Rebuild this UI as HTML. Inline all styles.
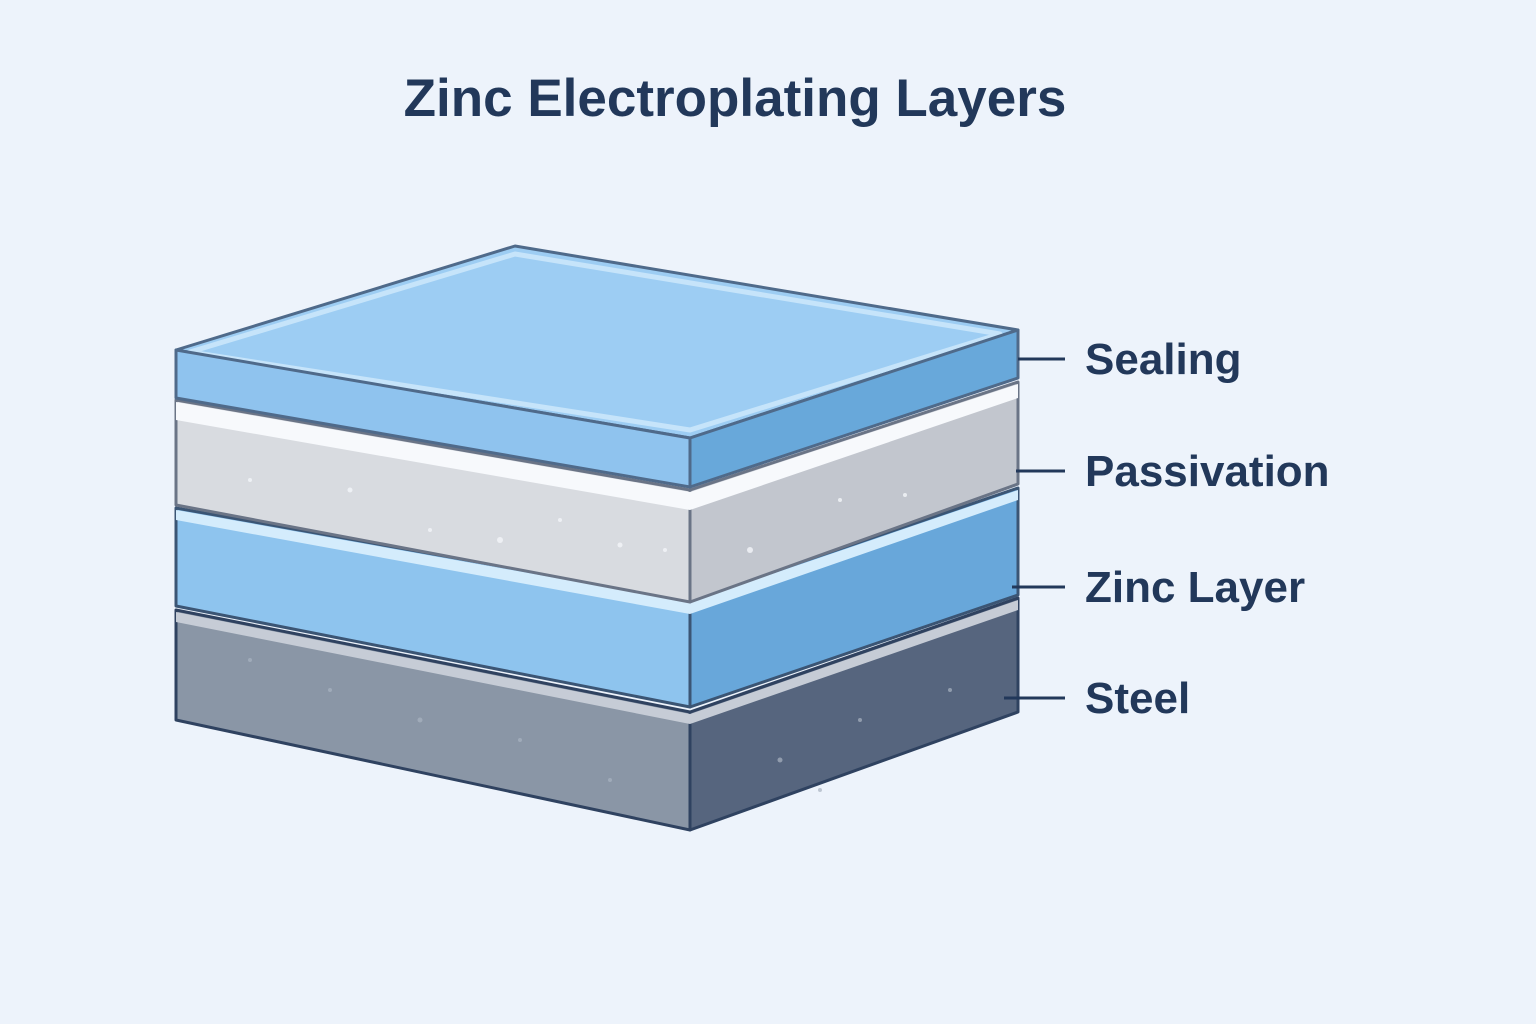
<!DOCTYPE html>
<html><head><meta charset="utf-8"><style>
html,body{margin:0;padding:0;background:#edf3fb;}
svg{display:block}
text{font-family:"Liberation Sans",sans-serif;font-weight:bold;fill:#22385a}
</style></head><body>
<svg width="1536" height="1024" viewBox="0 0 1536 1024" xmlns="http://www.w3.org/2000/svg">
<rect width="1536" height="1024" fill="#edf3fb"/>
<text x="735" y="116" font-size="53" text-anchor="middle">Zinc Electroplating Layers</text>
<g stroke-linejoin="round">
<polygon points="176,610 690,712 690,830 176,720" fill="#8a96a6" stroke="#2f4260" stroke-width="3"/>
<polygon points="690,712 1018,598 1018,712 690,830" fill="#56657e" stroke="#2f4260" stroke-width="3"/>
<polygon points="176,612 690,714 1018,600 1018,610 690,724 176,622" fill="#c6ccd6"/>
<polygon points="176,508 690,600 690,707 176,606" fill="#8ec4ee" stroke="#3b5574" stroke-width="3"/>
<polygon points="690,600 1018,488 1018,595 690,707" fill="#68a7da" stroke="#3b5574" stroke-width="3"/>
<polygon points="176,510 690,602 1018,490 1018,500 690,614 176,520" fill="#d4ecfc"/>
<polygon points="176,400 690,490 690,602 176,505" fill="#d8dbe0" stroke="#6a7486" stroke-width="3"/>
<polygon points="690,490 1018,382 1018,484 690,602" fill="#c2c6ce" stroke="#6a7486" stroke-width="3"/>
<polygon points="176,402 690,492 1018,384 1018,398 690,510 176,420" fill="#f7f9fc"/>
<polygon points="176,350 515,246 1018,330 690,438" fill="#9dcdf3" stroke="#4f6a8a" stroke-width="3"/>
<polygon points="190,352 515,254 1000,334 690,430" fill="none" stroke="#c6e4fa" stroke-width="5"/>
<polygon points="176,350 690,438 690,487 176,398" fill="#8fc3ee" stroke="#4f6a8a" stroke-width="3"/>
<polygon points="690,438 1018,330 1018,378 690,487" fill="#68a8da" stroke="#4f6a8a" stroke-width="3"/>
</g>
<g fill="#f4f6fa" opacity="0.8">
<circle cx="350" cy="490" r="2.5"/><circle cx="430" cy="530" r="2"/><circle cx="500" cy="540" r="3"/><circle cx="560" cy="520" r="2"/><circle cx="620" cy="545" r="2.5"/><circle cx="665" cy="550" r="2"/><circle cx="750" cy="550" r="3"/><circle cx="840" cy="500" r="2"/><circle cx="905" cy="495" r="2"/><circle cx="250" cy="480" r="2"/>
</g>
<g fill="#aab4c2" opacity="0.7">
<circle cx="250" cy="660" r="2"/><circle cx="330" cy="690" r="2"/><circle cx="420" cy="720" r="2.5"/><circle cx="520" cy="740" r="2"/><circle cx="610" cy="780" r="2"/><circle cx="780" cy="760" r="2.5"/><circle cx="860" cy="720" r="2"/><circle cx="950" cy="690" r="2"/><circle cx="820" cy="790" r="2"/>
</g>
<g stroke="#22385a" stroke-width="3">
<line x1="1018" y1="359" x2="1065" y2="359"/>
<line x1="1016" y1="471" x2="1065" y2="471"/>
<line x1="1012" y1="587" x2="1065" y2="587"/>
<line x1="1004" y1="698" x2="1065" y2="698"/>
</g>
<text x="1085" y="374" font-size="44">Sealing</text>
<text x="1085" y="486" font-size="44">Passivation</text>
<text x="1085" y="602" font-size="44">Zinc Layer</text>
<text x="1085" y="713" font-size="44">Steel</text>
</svg>
</body></html>
